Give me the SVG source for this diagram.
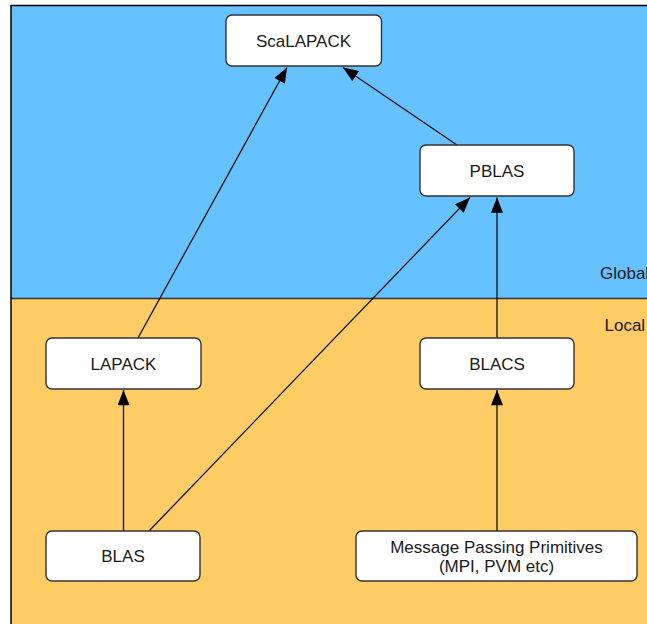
<svg xmlns="http://www.w3.org/2000/svg" width="647" height="624" viewBox="0 0 647 624">
<style>
.node rect{fill:#ffffff;stroke:#333333;stroke-width:1.4}
.lbl{font-family:"Liberation Sans",Arial,sans-serif;font-size:17px;fill:#1a1a1a;text-anchor:middle}
.zone{font-family:"Liberation Sans",Arial,sans-serif;font-size:17px;fill:#1a1a1a}
.conn{stroke:#111111;stroke-width:1.3;fill:none;marker-end:url(#arr)}
</style>
<defs>
<marker id="arr" markerUnits="userSpaceOnUse" markerWidth="16" markerHeight="12" viewBox="0 0 14 11" refX="14" refY="5.5" orient="auto">
<path d="M0,0 L14,5.5 L0,11 Z" fill="#000000"/>
</marker>
</defs>
<rect x="0" y="0" width="647" height="624" fill="#ffffff"/>
<g id="background">
<rect x="11" y="6" width="636" height="292.5" fill="#66c2ff"/>
<rect x="11" y="298.5" width="636" height="325.5" fill="#ffcc66"/>
<line x1="11" y1="298.5" x2="647" y2="298.5" stroke="#333333" stroke-width="1.5"/>
<line x1="10.75" y1="5.5" x2="647" y2="5.5" stroke="#000000" stroke-width="1.5"/>
<line x1="11" y1="5" x2="11" y2="624" stroke="#000000" stroke-width="1.5"/>
<text class="zone" x="600" y="279">Global</text>
<text class="zone" x="604.5" y="331">Local</text>
</g>
<g id="connectors">
<path class="conn" d="M138,338 L287,67.5"/>
<path class="conn" d="M457,145 L343,67.5"/>
<path class="conn" d="M149,531 L470,197.5"/>
<path class="conn" d="M497,338 L497,197.5"/>
<path class="conn" d="M123.5,531 L123.5,390"/>
<path class="conn" d="M497,531 L497,390"/>
</g>
<g id="scalapack" class="node">
<rect x="226" y="15" width="155.5" height="51" rx="6"/>
<text class="lbl" x="303.5" y="46.5">ScaLAPACK</text>
</g>
<g id="pblas" class="node">
<rect x="420" y="145" width="154" height="51" rx="6"/>
<text class="lbl" x="497" y="176.5">PBLAS</text>
</g>
<g id="lapack" class="node">
<rect x="46" y="338" width="155" height="51" rx="6"/>
<text class="lbl" x="123.5" y="369.5">LAPACK</text>
</g>
<g id="blacs" class="node">
<rect x="420" y="338" width="154" height="51" rx="6"/>
<text class="lbl" x="497" y="369.5">BLACS</text>
</g>
<g id="blas" class="node">
<rect x="46" y="531" width="154" height="50" rx="6"/>
<text class="lbl" x="123" y="562">BLAS</text>
</g>
<g id="mpp" class="node">
<rect x="356" y="531" width="281" height="50" rx="6"/>
<text class="lbl" x="496.5" y="552.5">Message Passing Primitives</text>
<text class="lbl" x="496.5" y="571.5">(MPI, PVM etc)</text>
</g>
</svg>
